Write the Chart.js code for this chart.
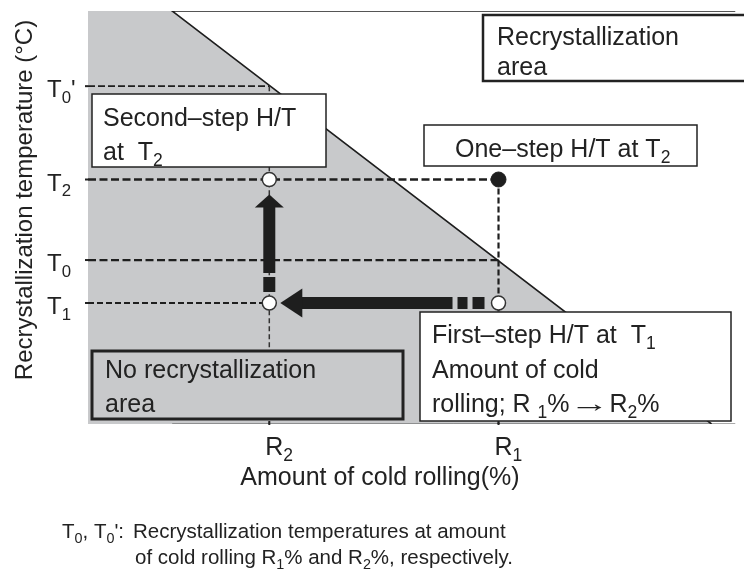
<!DOCTYPE html>
<html>
<head>
<meta charset="utf-8">
<script src="https://cdn.jsdelivr.net/npm/chart.js@4.4.1/dist/chart.umd.min.js"></script>
<style>
  html, body { margin: 0; padding: 0; background: #fff; }
  canvas { display: block; }
</style>
</head>
<body>
<canvas id="chart" width="744" height="584"></canvas>
<script>
// axis ticks (x: amount of cold rolling, y: recrystallization temperature, both 0-100)
const xTickValues = [28, 63.4];
const xTickLabels = ['R_{2}', 'R_{1}'];
const yTickValues = [81.8, 59.2, 39.7, 29.3];
const yTickLabels = ["T_{0}'", 'T_{2}', 'T_{0}', 'T_{1}'];

// recrystallization boundary line (top end, bottom end)
const boundaryX = [13, 96.3];
const boundaryY = [100, 0];

const [R2, R1] = xTickValues;
const [T0p, T2, T0, T1] = yTickValues;

// heat treatment points
const openPointsX = [R2, R2, R1];
const openPointsY = [T2, T1, T1];
const solidPointsX = [R1];
const solidPointsY = [T2];

// process arrows: first step (R1 -> R2 at T1), second step (T1 -> T2 at R2)
const arrowFromX = [R1, R2];
const arrowFromY = [T1, T1];
const arrowToX = [R2, R2];
const arrowToY = [T1, T2];

const INK = '#1e1e1e';
const GRAY = '#c8c9cb';
const FONT = '"Liberation Sans", Arial, Helvetica, sans-serif';

const arrowStyles = [
    { startGap: 14, dash: [12, 5, 10, 5], tipGap: 11, headLen: 22, headW: 29, shaftW: 12 },
    { startGap: 11, dash: [15, 4], tipGap: 15, headLen: 13, headW: 29, shaftW: 12 },
];

const boxes = [
    { x: 483, y: 15, w: 290, h: 66, lw: 2.5, fill: '#fff', tx: 497, base: [45, 75],
      lines: ['Recrystallization', 'area'] },
    { x: 92, y: 94, w: 234, h: 73, lw: 1.5, fill: '#fff', tx: 103, base: [126, 160],
      lines: ['Second\u2013step H/T', 'at  T_{2}'] },
    { x: 424, y: 125, w: 273, h: 41, lw: 1.5, fill: '#fff', tx: 455, base: [157],
      lines: ['One\u2013step H/T at T_{2}'] },
    { x: 92, y: 351, w: 311, h: 68, lw: 3, fill: GRAY, tx: 105, base: [378, 412],
      lines: ['No recrystallization', 'area'] },
    { x: 420, y: 312, w: 311, h: 109, lw: 1.5, fill: '#fff', tx: 432, base: [343, 378, 412],
      lines: ['First\u2013step H/T at  T_{1}', 'Amount of cold', 'rolling; R _{1}%\u2192R_{2}%'] },
];

const xy = (xs, ys) => xs.map((x, i) => ({ x, y: ys[i] }));

function line(points, opts) {
    return Object.assign({
        type: 'scatter',
        data: points,
        showLine: true,
        pointRadius: 0,
        borderColor: INK,
        borderWidth: 2,
        fill: false,
        order: 5,
    }, opts);
}

// split "T_{0}'" into [text, isSubscript] parts, arrows get their own part
function parts(str) {
    return str.split(/(_\{[^}]*\}|\u2192)/).filter(Boolean).map((s) =>
        s.startsWith('_{') ? [s.slice(2, -1), true] : [s, false]);
}

function richText(ctx, str, x, y, size, align) {
    const list = parts(str);
    const font = (sub) => `${sub ? size * 0.7 : size}px ${FONT}`;
    // the arrow glyph is drawn wider, like in the printed figure
    const stretch = (t) => (t === '\u2192' ? 1.6 : 1);
    let width = 0;
    list.forEach(([t, sub]) => { ctx.font = font(sub); width += ctx.measureText(t).width * stretch(t); });
    let cx = align === 'center' ? x - width / 2 : x;
    ctx.textAlign = 'left';
    ctx.textBaseline = 'alphabetic';
    list.forEach(([t, sub]) => {
        ctx.font = font(sub);
        const w = ctx.measureText(t).width;
        const k = stretch(t);
        ctx.save();
        ctx.translate(cx, sub ? y + size * 0.24 : y);
        ctx.scale(k, 1);
        ctx.fillText(t, 0, 0);
        ctx.restore();
        cx += w * k;
    });
}

const overlay = {
    id: 'overlay',
    afterDatasetsDraw(chart) {
        const { ctx, chartArea, scales: { x, y } } = chart;
        ctx.save();
        ctx.fillStyle = INK;
        ctx.strokeStyle = INK;

        // arrows
        arrowStyles.forEach((st, i) => {
            const x0 = x.getPixelForValue(arrowFromX[i]);
            const y0 = y.getPixelForValue(arrowFromY[i]);
            const x1 = x.getPixelForValue(arrowToX[i]);
            const y1 = y.getPixelForValue(arrowToY[i]);
            const len = Math.hypot(x1 - x0, y1 - y0);
            const dx = (x1 - x0) / len;
            const dy = (y1 - y0) / len;
            const tipX = x1 - dx * st.tipGap;
            const tipY = y1 - dy * st.tipGap;
            const baseX = tipX - dx * st.headLen;
            const baseY = tipY - dy * st.headLen;

            ctx.lineWidth = st.shaftW;
            ctx.lineCap = 'butt';
            ctx.setLineDash(st.dash.concat([2000]));
            ctx.beginPath();
            ctx.moveTo(x0 + dx * st.startGap, y0 + dy * st.startGap);
            ctx.lineTo(baseX + dx, baseY + dy);
            ctx.stroke();
            ctx.setLineDash([]);

            ctx.beginPath();
            ctx.moveTo(tipX, tipY);
            ctx.lineTo(baseX - dy * st.headW / 2, baseY + dx * st.headW / 2);
            ctx.lineTo(baseX + dy * st.headW / 2, baseY - dx * st.headW / 2);
            ctx.closePath();
            ctx.fill();
        });

        // text boxes
        boxes.forEach((b) => {
            ctx.fillStyle = b.fill;
            ctx.fillRect(b.x, b.y, b.w, b.h);
            ctx.lineWidth = b.lw;
            ctx.strokeStyle = '#222';
            ctx.strokeRect(b.x, b.y, b.w, b.h);
            ctx.fillStyle = '#222';
            b.lines.forEach((t, k) => richText(ctx, t, b.tx, b.base[k], 25));
        });

        // ticks and tick labels
        ctx.fillStyle = '#222';
        yTickValues.forEach((v, i) => {
            const py = y.getPixelForValue(v);
            ctx.fillRect(chartArea.left - 3, py - 1, 3, 2);
            richText(ctx, yTickLabels[i], 47, py + 11, 24);
        });
        xTickValues.forEach((v, i) => {
            const px = x.getPixelForValue(v);
            ctx.fillRect(px - 1, chartArea.bottom - 3, 2, 4);
            richText(ctx, xTickLabels[i], px - 4, 455, 25);
        });

        // axis titles
        richText(ctx, 'Amount of cold rolling(%)', 380, 485, 25, 'center');
        ctx.save();
        ctx.translate(32, 200);
        ctx.rotate(-Math.PI / 2);
        richText(ctx, 'Recrystallization temperature (\u00b0C)', 0, 0, 24, 'center');
        ctx.restore();

        // footnote
        richText(ctx, "T_{0}, T_{0}':", 62, 538, 20.5);
        richText(ctx, 'Recrystallization temperatures at amount', 133, 538, 20.5);
        richText(ctx, 'of cold rolling R_{1}% and R_{2}%, respectively.', 135, 564, 20.5);

        ctx.restore();
    },
};

new Chart(document.getElementById('chart'), {
    type: 'scatter',
    data: {
        datasets: [
            {
                data: xy(openPointsX, openPointsY),
                pointRadius: 7,
                pointBackgroundColor: '#fff',
                pointBorderColor: '#333',
                pointBorderWidth: 1.5,
                order: 1,
            },
            {
                data: xy(solidPointsX, solidPointsY),
                pointRadius: 7.5,
                pointBackgroundColor: INK,
                pointBorderColor: INK,
                pointBorderWidth: 1,
                order: 1,
            },
            // dashed guide lines
            line([{ x: 0, y: T0p }, { x: R2, y: T0p }], { borderDash: [7, 3], borderWidth: 1.6 }),
            line([{ x: 0, y: T2 }, { x: R1, y: T2 }], { borderDash: [8, 3.5], borderWidth: 2.4 }),
            line([{ x: 0, y: T0 }, { x: R1, y: T0 }], { borderDash: [8, 3.5], borderWidth: 2.2 }),
            line([{ x: 0, y: T1 }, { x: R2, y: T1 }], { borderDash: [6, 3], borderWidth: 2.2 }),
            line([{ x: R2, y: T0p }, { x: R2, y: 0 }], { borderDash: [5, 3], borderWidth: 1.5, borderColor: '#333' }),
            line([{ x: R1, y: T2 }, { x: R1, y: 0 }], { borderDash: [6, 3], borderWidth: 2.2 }),
            // boundary and frame
            line([{ x: 100, y: 100 }, { x: boundaryX[0], y: boundaryY[0] }, { x: boundaryX[1], y: boundaryY[1] }],
                { borderWidth: 1.6, order: 6 }),
            line([{ x: boundaryX[0], y: 0 }, { x: 100, y: 0 }], { borderWidth: 1, borderColor: '#555', order: 6 }),
            // no recrystallization region
            {
                data: [{ x: 0, y: 100 }, { x: boundaryX[0], y: boundaryY[0] }, { x: boundaryX[1], y: boundaryY[1] }],
                showLine: true,
                pointRadius: 0,
                borderWidth: 0,
                borderColor: 'rgba(0,0,0,0)',
                fill: 'origin',
                backgroundColor: GRAY,
                order: 10,
            },
        ],
    },
    options: {
        responsive: false,
        animation: false,
        layout: { padding: { left: 88, top: 11, right: 0, bottom: 160 } },
        scales: {
            x: { type: 'linear', min: 0, max: 100, display: false },
            y: { type: 'linear', min: 0, max: 100, display: false },
        },
        plugins: { legend: { display: false }, tooltip: { enabled: false } },
    },
    plugins: [overlay],
});
</script>
</body>
</html>
